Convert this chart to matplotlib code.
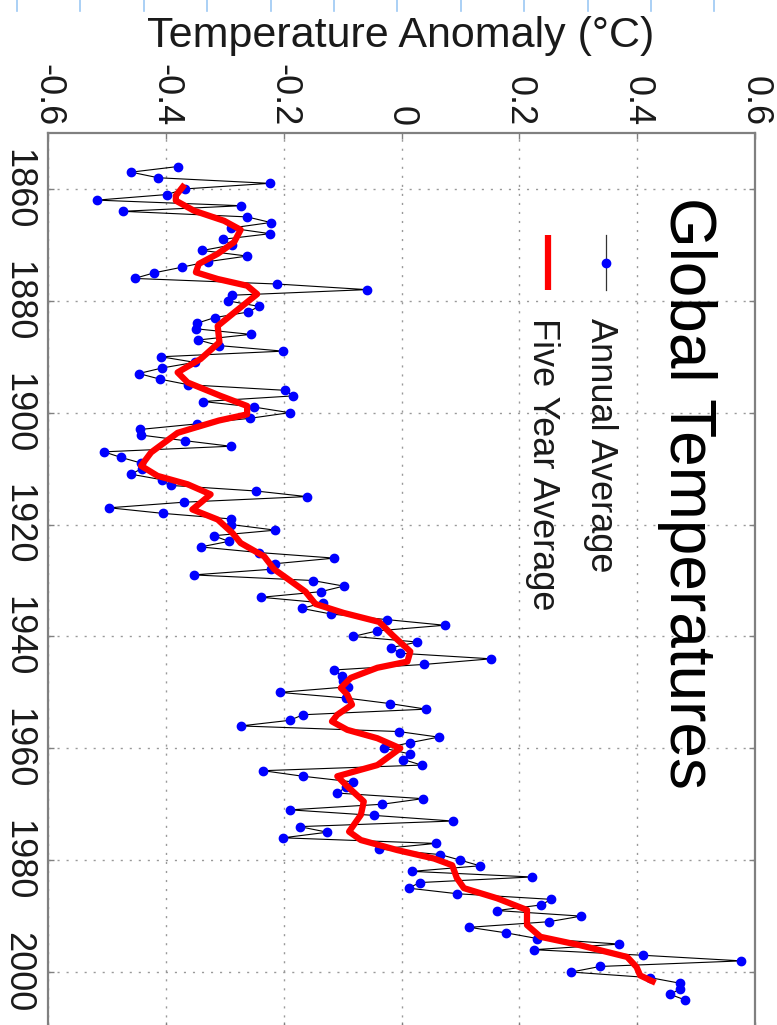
import numpy as np
import matplotlib
matplotlib.use("Agg")
from matplotlib import pyplot as plt
from matplotlib.lines import Line2D

plt.rcParams['font.family'] = ['Liberation Sans', 'DejaVu Sans']
plt.rcParams['axes.unicode_minus'] = False

# annual global temperature anomaly, 1856-2005
years = np.arange(1856, 2006)
annual = [
    -0.380, -0.459, -0.413, -0.224, -0.368, -0.398, -0.517, -0.272, -0.473, -0.262,  # 1856-1865
    -0.222, -0.290, -0.223, -0.303, -0.287, -0.338, -0.262, -0.329, -0.373, -0.420,  # 1866-1875
    -0.453, -0.211, -0.059, -0.287, -0.295, -0.242, -0.260, -0.317, -0.347, -0.349,  # 1876-1885
    -0.256, -0.345, -0.310, -0.201, -0.408, -0.351, -0.406, -0.446, -0.410, -0.362,  # 1886-1895
    -0.198, -0.184, -0.337, -0.250, -0.190, -0.257, -0.347, -0.444, -0.442, -0.368,  # 1896-1905
    -0.290, -0.505, -0.476, -0.442, -0.441, -0.459, -0.406, -0.392, -0.247, -0.161,  # 1906-1915
    -0.369, -0.496, -0.405, -0.289, -0.289, -0.214, -0.319, -0.293, -0.341, -0.242,  # 1916-1925
    -0.114, -0.215, -0.222, -0.353, -0.151, -0.098, -0.137, -0.238, -0.134, -0.169,  # 1926-1935
    -0.119, -0.024, 0.073, -0.041, -0.082, 0.027, -0.017, -0.003, 0.152, 0.039,      # 1936-1945
    -0.115, -0.101, -0.100, -0.090, -0.207, -0.095, -0.020, 0.042, -0.167, -0.190,   # 1946-1955
    -0.273, -0.005, 0.063, 0.014, -0.029, 0.014, 0.003, 0.034, -0.235, -0.167,       # 1956-1965
    -0.083, -0.095, -0.109, 0.036, -0.033, -0.189, -0.046, 0.087, -0.173, -0.126,    # 1966-1975
    -0.201, 0.058, -0.038, 0.066, 0.100, 0.133, 0.018, 0.221, 0.031, 0.012,          # 1976-1985
    0.095, 0.254, 0.237, 0.162, 0.305, 0.250, 0.115, 0.178, 0.230, 0.370,            # 1986-1995
    0.225, 0.410, 0.577, 0.337, 0.288, 0.422, 0.473, 0.473, 0.456, 0.482,            # 1996-2005
]

# five year average curve
smooth_years = [
    1859.2, 1861.2, 1862.1, 1863.9, 1865.7, 1867.3, 1869.5, 1871.6, 1873.4, 1874.9,
    1876.1, 1877.3, 1878.8, 1882.1, 1884.5, 1887.4, 1890.4, 1892.8, 1894.6, 1897.0,
    1898.8, 1900.3, 1901.4, 1903.6, 1907.1, 1909.5, 1911.3, 1912.8, 1914.6, 1916.1,
    1917.3, 1919.1, 1921.5, 1923.3, 1925.7, 1928.0, 1930.1, 1932.0, 1934.2, 1935.8,
    1937.4, 1939.8, 1942.7, 1944.5, 1945.6, 1947.4, 1949.2, 1950.4, 1952.2, 1954.0,
    1955.2, 1956.7, 1958.2, 1960.0, 1963.0, 1965.0, 1966.8, 1969.5, 1971.9, 1974.9,
    1976.4, 1978.2, 1979.7, 1980.9, 1983.2, 1985.0, 1986.8, 1988.9, 1991.6, 1993.7,
    1995.2, 1997.3, 1999.1, 2000.6, 2001.9,
]
smooth = [
    -0.368, -0.383, -0.383, -0.352, -0.301, -0.273, -0.284, -0.312, -0.344, -0.349,
    -0.312, -0.262, -0.245, -0.284, -0.312, -0.309, -0.341, -0.380, -0.363, -0.307,
    -0.262, -0.262, -0.310, -0.380, -0.425, -0.442, -0.414, -0.363, -0.324, -0.341,
    -0.355, -0.312, -0.287, -0.273, -0.233, -0.216, -0.188, -0.163, -0.146, -0.098,
    -0.038, -0.015, 0.015, 0.010, -0.041, -0.086, -0.103, -0.092, -0.084, -0.109,
    -0.118, -0.092, -0.041, -0.002, -0.041, -0.109, -0.092, -0.064, -0.069, -0.089,
    -0.069, -0.007, 0.055, 0.086, 0.094, 0.106, 0.162, 0.213, 0.213, 0.236,
    0.303, 0.383, 0.399, 0.405, 0.431,
]

anom_ticks = [-0.6, -0.4, -0.2, 0, 0.2, 0.4, 0.6]
anom_labels = ['-0.6', '-0.4', '-0.2', '0', '0.2', '0.4', '0.6']
year_ticks = [1860, 1880, 1900, 1920, 1940, 1960, 1980, 2000]

W, H = 777, 1025
fig = plt.figure(figsize=(W / 100, H / 100), dpi=100)
# axes box in pixels: left 48, right 755, top 133, bottom 1028 (just off the page)
ax = fig.add_axes([48 / W, (H - 1028) / H, 707 / W, 895 / H])

# the whole chart is turned a quarter turn: anomaly across, years down
ax.plot(annual, years, color='black', lw=0.8, zorder=2)
ax.plot(annual, years, 'o', color='blue', ms=6, mec='blue', zorder=3)
ax.plot(smooth, smooth_years, color='red', lw=4.5, solid_capstyle='butt',
        solid_joinstyle='round', zorder=4)

ax.set_xlim(-0.6, 0.6)
ax.set_ylim(2010, 1850)
ax.set_xticks(anom_ticks)
ax.set_xticklabels(anom_labels)
ax.set_yticks(year_ticks)

gray = '#808080'
ax.grid(True, color='#999999', lw=1.0, ls=(0, (1.5, 5)))
ax.tick_params(axis='x', top=True, bottom=True, labeltop=True, labelbottom=False,
               direction='in', length=4, width=1, color=gray, pad=5,
               labelsize=26, labelrotation=-90, labelcolor='#1a1a1a')
ax.tick_params(axis='y', left=True, right=True, direction='in', length=4, width=1,
               color=gray, pad=9, labelsize=26, labelrotation=-90, labelcolor='#1a1a1a')
for lab in ax.get_yticklabels():
    lab.set_va('center')
for s in ax.spines.values():
    s.set_color(gray)
    s.set_linewidth(1.6)

fig.text(401 / W, 1 - 36 / H, 'Temperature Anomaly (\u00b0C)', ha='center', va='center',
         fontsize=31, color='#1a1a1a')

ax.text(0.904, 0.9285, 'Global Temperatures', transform=ax.transAxes, rotation=-90,
        ha='center', va='top', fontsize=46, color='black')

# hand-made legend, turned like the rest
ax.plot([0.789, 0.789], [0.886, 0.8246], transform=ax.transAxes, color='#333333', lw=0.9)
ax.plot([0.789], [0.8547], 'o', transform=ax.transAxes, color='blue', ms=6)
ax.plot([0.707, 0.707], [0.886, 0.8246], transform=ax.transAxes, color='red', lw=4.5,
        solid_capstyle='butt')
ax.text(0.782, 0.7933, 'Annual Average', transform=ax.transAxes, rotation=-90,
        ha='center', va='top', fontsize=26, color='#1a1a1a')
ax.text(0.699, 0.7933, 'Five Year Average', transform=ax.transAxes, rotation=-90,
        ha='center', va='top', fontsize=26, color='#1a1a1a')

# light blue marks along the top edge of the page
for k in range(13):
    xp = (17 + 63.4 * k) / W
    fig.add_artist(Line2D([xp, xp], [1, 1 - 11 / H], color='#9cc8f4', lw=1.2))

fig.savefig('out.png', dpi=100)
